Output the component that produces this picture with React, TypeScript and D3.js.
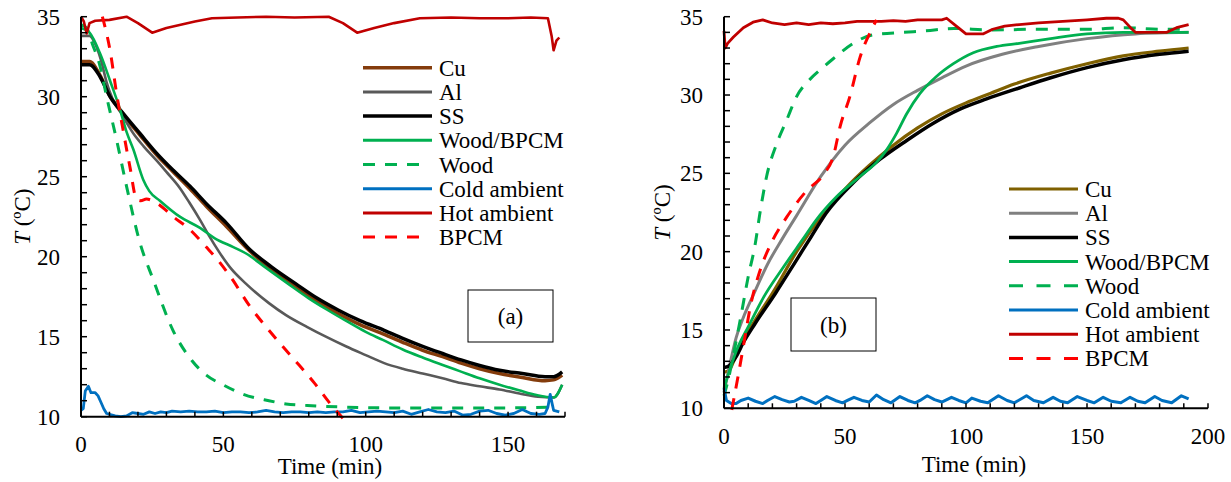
import React from "react";
import * as d3 from "d3";

type P = [number, number];

// ---------- Panel (a): cooling ----------
const coolCu: P[] = [[0,32.2],[3,32.2],[6.5,31.4],[10,30.1],[15,28.85],[20.7,27.6],[26.6,26.35],[32.4,25.3],[38.3,24.25],[44,23.15],[51,21.9],[59,20.4],[67,19.2],[75.5,18.1],[83,17.2],[90.3,16.45],[98,15.75],[106.5,15.15],[113,14.65],[120,14.15],[127,13.75],[133.5,13.35],[140,13.0],[147,12.7],[155,12.45],[163,12.25],[166,12.3],[169,12.6]];
const coolAl: P[] = [[0,33.8],[3,33.8],[5,33.3],[7,32.3],[9,30.9],[11,29.9],[14,29.0],[18.4,27.7],[22,26.9],[26.6,26.0],[30,25.3],[34.7,24.3],[38,23.4],[41.8,22.3],[45,21.3],[48.5,20.3],[52.5,19.3],[58,18.3],[66,17.1],[72,16.35],[79.5,15.6],[86,15.0],[93,14.4],[100,13.85],[106.5,13.35],[113,13.0],[120,12.7],[127,12.4],[133.5,12.1],[140,11.9],[147,11.7],[154,11.45],[160.5,11.25],[166,11.2],[169,12.0]];
const coolSS: P[] = [[0,32.0],[3,32.0],[6.7,31.25],[10.2,30.0],[14.8,28.96],[20.7,27.7],[26.6,26.46],[32.4,25.4],[38.3,24.4],[44.1,23.3],[51.1,22.1],[59,20.5],[67,19.35],[75.5,18.3],[83,17.4],[90.3,16.67],[98,16.0],[106.5,15.4],[113,14.9],[120,14.4],[127,13.95],[133.5,13.55],[140,13.2],[147,12.9],[155,12.7],[163,12.5],[166,12.5],[169,12.8]];
const coolWoodBpcm: P[] = [[0,34.3],[3,34.0],[6.7,32.7],[10.2,31.0],[13.7,29.2],[16,27.8],[18.4,26.7],[21.9,24.8],[24,24.1],[27.7,23.5],[34.7,22.5],[41.8,21.8],[47,21.15],[53.5,20.6],[58,20.2],[65,19.3],[72.8,18.3],[80,17.4],[86.3,16.7],[93,16.0],[100,15.3],[106,14.8],[113,14.2],[120,13.7],[126.8,13.25],[133,12.85],[140,12.4],[147,12.0],[153.8,11.65],[160,11.35],[166,11.2],[169,12.0]];
const coolWood: P[] = [[0,34.5],[2,34.3],[4,33.3],[6.7,31.9],[9,30.0],[12.5,27.3],[16,24.4],[20.5,21.0],[25.5,18.5],[32.3,15.4],[39,13.5],[44,12.6],[49.8,12.0],[57,11.4],[66,11.0],[72,10.8],[79.5,10.7],[93,10.6],[110,10.55],[130,10.55],[150,10.55],[166,10.6]];
const coolCold: P[] = [[0,10.4],[0.8,10.5],[1.5,11.6],[2.6,11.9],[3.5,11.5],[5,11.5],[6,11.3],[7,10.9],[8,10.5],[9,10.2],[12,10.05],[14,10.0],[16,10.05],[18,10.25],[20,10.2],[22,10.15],[24,10.3],[26,10.2],[28,10.3],[30,10.25],[32,10.35],[35,10.3],[38,10.35],[41,10.3],[44,10.3],[47,10.35],[50,10.25],[53,10.3],[56,10.3],[59,10.25],[62,10.3],[65,10.4],[68,10.3],[71,10.25],[74,10.3],[77,10.3],[80,10.25],[83,10.3],[86,10.25],[89,10.3],[92,10.3],[95,10.4],[98,10.25],[101,10.3],[104,10.35],[107,10.3],[110,10.25],[113,10.35],[116,10.15],[119,10.3],[122,10.45],[125,10.3],[128,10.25],[131,10.35],[134,10.1],[137,10.15],[140,10.35],[143,10.4],[146,10.2],[149,10.1],[152,10.2],[155,10.45],[158,10.2],[161,10.15],[163,10.2],[164,10.6],[164.8,11.4],[165.5,10.8],[166,10.4],[168,10.3]];
const coolHot: P[] = [[0,35.0],[1,34.7],[2,33.95],[3,34.6],[5,34.75],[10,34.8],[16,35.0],[20,34.6],[25,34.0],[30,34.3],[35,34.5],[40,34.7],[46,34.9],[55,34.95],[65,35.0],[75,34.95],[87,35.0],[92,34.6],[97,34.0],[103,34.3],[110,34.6],[119,34.9],[130,34.95],[140,34.9],[150,34.9],[158,34.95],[164,34.9],[165.3,33.8],[166,32.9],[167,33.5],[168,33.7]];
const coolBpcm: P[] = [[7.5,35.0],[10.2,32.9],[12.5,30.2],[14.8,27.9],[17.2,25.6],[19.5,23.6],[21,23.5],[23,23.6],[26.6,23.35],[32.4,22.5],[38.2,21.7],[44,20.6],[48,19.8],[52.5,18.75],[59.3,16.9],[66,15.4],[74,13.75],[82,12.1],[87.6,10.8],[92,9.9]];

// ---------- Panel (b): heating ----------
const heatCu: P[] = [[0,12.3],[2,12.4],[4,13.0],[8,14.4],[12.8,15.6],[21,17.6],[30,20.0],[40,22.2],[50,24.0],[60,25.5],[70,26.8],[80,27.9],[90,28.8],[100,29.5],[110,30.1],[120,30.7],[135,31.4],[150,32.0],[165,32.5],[180,32.8],[192,33.0]];
const heatAl: P[] = [[0,11.0],[3,13.2],[5,14.5],[8,15.8],[12,17.2],[18,19.2],[24,20.8],[30,22.3],[40,24.8],[50,26.8],[60,28.2],[70,29.4],[80,30.3],[90,31.1],[100,31.85],[115,32.6],[130,33.1],[150,33.6],[170,33.9],[192,34.0]];
const heatSS: P[] = [[0,12.6],[2,12.7],[5,13.3],[8,14.2],[12.8,15.4],[21.3,17.35],[29.3,19.3],[35.8,20.9],[42.4,22.5],[53.4,24.4],[64.5,25.9],[75.5,27.1],[86.5,28.2],[97.5,29.1],[108.5,29.75],[122,30.45],[135,31.1],[150,31.75],[165,32.25],[180,32.6],[192,32.8]];
const heatWoodBpcm: P[] = [[0,11.3],[2.5,12.5],[5.2,13.7],[10,15.2],[16.4,17.1],[24.5,19.0],[32.6,20.8],[38,22.0],[46.5,23.5],[56.2,24.8],[63,25.7],[67.2,26.5],[71.3,27.55],[75.5,28.8],[81,30.1],[87.9,31.2],[94.8,32.0],[103,32.7],[112.7,33.1],[122,33.3],[135,33.6],[150,33.9],[165,34.0],[180,34.0],[192,34.0]];
const heatWood: P[] = [[0,10.8],[2,12.0],[4,13.5],[6.9,15.8],[10,18.4],[12.8,20.4],[15,22.6],[17.6,24.8],[21.8,26.9],[25.9,28.4],[30,29.9],[35.5,31.0],[39.7,31.6],[45,32.3],[53.4,33.3],[61.7,33.85],[74,34.0],[83.5,34.1],[95,34.25],[110,34.15],[130,34.2],[150,34.2],[165,34.3],[180,34.2],[192,34.2]];
const heatCold: P[] = [[0,11.3],[1,10.5],[3,10.3],[5,10.3],[7,10.5],[10,10.65],[13,10.45],[16,10.3],[18,10.5],[21,10.75],[24,10.55],[27,10.4],[29,10.45],[32,10.7],[35,10.5],[38,10.3],[40,10.5],[42.5,10.75],[46,10.5],[49,10.35],[51,10.5],[53.7,10.7],[57,10.5],[60,10.4],[63,10.85],[66,10.55],[69,10.35],[72.7,10.75],[76,10.5],[79,10.35],[81,10.5],[84,10.8],[87,10.55],[90,10.4],[94,10.7],[97,10.5],[100,10.35],[102.4,10.65],[106,10.45],[109,10.35],[113.4,10.8],[117,10.5],[120,10.35],[125,10.8],[128,10.5],[132,10.35],[136,10.7],[139,10.45],[142,10.35],[146,10.75],[150,10.5],[153,10.35],[156.7,10.7],[160,10.45],[164,10.35],[167.8,10.7],[171,10.45],[174,10.35],[178,10.75],[181,10.5],[185,10.35],[189,10.8],[192,10.6]];
const heatHot: P[] = [[0,34.1],[0.5,33.0],[1.5,33.3],[3.9,33.7],[8,34.3],[12,34.65],[16,34.8],[20,34.6],[25,34.5],[30,34.6],[35,34.5],[40,34.6],[45,34.55],[50,34.6],[55,34.7],[60,34.7],[65,34.7],[70,34.75],[75,34.7],[80,34.8],[85,34.8],[90,34.8],[92,34.9],[96,34.4],[100,33.9],[107,33.9],[111,34.2],[116,34.4],[122,34.5],[130,34.6],[140,34.7],[150,34.8],[158,34.9],[163,34.9],[165,34.8],[168,34.3],[170,34.0],[175,34.0],[183,34.0],[187,34.3],[192,34.5]];
const heatBpcm: P[] = [[3.2,9.9],[6,12.2],[8.5,14.4],[10.9,16.5],[14.9,18.8],[19.7,20.6],[25.9,22.2],[34.2,23.9],[41,24.9],[45.2,26.1],[48,28.0],[52,29.9],[56.2,32.4],[61.7,34.4],[63,34.8]];

const legendLabels = ["Cu", "Al", "SS", "Wood/BPCM", "Wood", "Cold ambient", "Hot ambient", "BPCM"];
const yTickLabels = [10, 15, 20, 25, 30, 35];
const coolXTickLabels = [0, 50, 100, 150];
const heatXTickLabels = [0, 50, 100, 150, 200];

const FONT = "Liberation Serif, Times New Roman, DejaVu Serif, serif";

type Style = { color: string; width: number; dash?: string; smooth: boolean };

const coolStyles: Style[] = [
  { color: "#843C0C", width: 3.5, smooth: true },
  { color: "#595959", width: 2.6, smooth: true },
  { color: "#000000", width: 3.5, smooth: true },
  { color: "#00B050", width: 2.6, smooth: true },
  { color: "#00B050", width: 3, dash: "11,10", smooth: true },
  { color: "#0070C0", width: 2.8, smooth: false },
  { color: "#C00000", width: 2.6, smooth: false },
  { color: "#FF0000", width: 3, dash: "11,10", smooth: true },
];
const heatStyles: Style[] = [
  { color: "#7F6000", width: 3.2, smooth: true },
  { color: "#808080", width: 3, smooth: true },
  { color: "#000000", width: 3.5, smooth: true },
  { color: "#00B050", width: 2.8, smooth: true },
  { color: "#00B050", width: 3, dash: "12,10", smooth: true },
  { color: "#0070C0", width: 3, smooth: false },
  { color: "#C00000", width: 2.8, smooth: false },
  { color: "#FF0000", width: 3, dash: "12,10", smooth: true },
];

type PanelProps = {
  series: P[][];
  styles: Style[];
  xRange: [number, number];
  xMax: number;
  yRange: [number, number];
  xTickLabels: number[];
  xTitleX: number;
  xTitleY: number;
  xLabelY: number;
  yTitleX: number;
  legendX: [number, number, number];
  legendDash: [number, number, number];
  legendY0: number;
  box: { x: number; y: number; w: number; h: number; label: string };
};

function Panel(p: PanelProps) {
  const x = d3.scaleLinear().domain([0, p.xMax]).range(p.xRange);
  const y = d3.scaleLinear().domain([10, 35]).range(p.yRange);
  const minorY = d3.range(10, 35.01, 1);
  const minorX = d3.range(0, p.xMax + 0.01, 10);
  const axisX = p.xRange[0];
  const axisY = p.yRange[0];
  const yTitleY = (p.yRange[0] + p.yRange[1]) / 2;
  return (
    <g>
      {p.series.map((s, i) => {
        const st = p.styles[i];
        const line = d3
          .line<P>()
          .x((d) => x(d[0]))
          .y((d) => y(d[1]))
          .curve(st.smooth ? d3.curveMonotoneX : d3.curveLinear);
        return (
          <path
            key={i}
            d={line(s) || ""}
            fill="none"
            stroke={st.color}
            strokeWidth={st.width}
            strokeDasharray={st.dash}
            strokeLinejoin="round"
          />
        );
      })}
      <line x1={axisX} x2={axisX} y1={y(35)} y2={y(10)} stroke="#000" strokeWidth={2} />
      <line x1={x(0)} x2={x(p.xMax)} y1={axisY} y2={axisY} stroke="#000" strokeWidth={2} />
      {minorY.map((v) => (
        <line key={"yt" + v} x1={axisX} x2={axisX + 6} y1={y(v)} y2={y(v)} stroke="#000" strokeWidth={1.5} />
      ))}
      {minorX.map((v) => (
        <line key={"xt" + v} x1={x(v)} x2={x(v)} y1={axisY} y2={axisY - 5} stroke="#000" strokeWidth={1.5} />
      ))}
      {yTickLabels.map((v) => (
        <text key={"yl" + v} x={axisX - 21} y={y(v) + 8} textAnchor="end" fontSize={23}>
          {v}
        </text>
      ))}
      {p.xTickLabels.map((v) => (
        <text key={"xl" + v} x={x(v)} y={p.xLabelY} textAnchor="middle" fontSize={23}>
          {v}
        </text>
      ))}
      <text x={p.xTitleX} y={p.xTitleY} textAnchor="middle" fontSize={23}>
        Time (min)
      </text>
      <text
        transform={`translate(${p.yTitleX},${yTitleY}) rotate(-90)`}
        textAnchor="middle"
        fontSize={23}
        dy={8}
      >
        <tspan fontStyle="italic">T</tspan> (ºC)
      </text>
      {legendLabels.map((lab, i) => {
        const st = p.styles[i];
        const cy = p.legendY0 + i * 24.2;
        const dashed = !!st.dash;
        return (
          <g key={"lg" + i}>
            <line
              x1={p.legendX[0]}
              x2={dashed ? p.legendX[0] + p.legendDash[2] : p.legendX[1]}
              y1={cy}
              y2={cy}
              stroke={st.color}
              strokeWidth={Math.max(st.width, 3)}
              strokeDasharray={dashed ? `${p.legendDash[0]},${p.legendDash[1]}` : undefined}
            />
            <text x={p.legendX[2]} y={cy + 8} fontSize={23}>
              {lab}
            </text>
          </g>
        );
      })}
      <rect x={p.box.x} y={p.box.y} width={p.box.w} height={p.box.h} fill="#fff" stroke="#000" strokeWidth={1} />
      <text x={p.box.x + p.box.w / 2} y={p.box.y + p.box.h / 2 + 8} textAnchor="middle" fontSize={23}>
        {p.box.label}
      </text>
    </g>
  );
}

export default function App() {
  return (
    <div style={{ position: "absolute", left: 0, top: 0 }}>
      <svg width={1231} height={482} style={{ display: "block", background: "#fff", fontFamily: FONT }}>
        <Panel
          series={[coolCu, coolAl, coolSS, coolWoodBpcm, coolWood, coolCold, coolHot, coolBpcm]}
          styles={coolStyles}
          xRange={[81, 565]}
          xMax={170}
          yRange={[416.7, 16.7]}
          xTickLabels={coolXTickLabels}
          xTitleX={330}
          xTitleY={474}
          xLabelY={452}
          yTitleX={22}
          legendX={[363, 432, 439]}
          legendDash={[12, 10, 59]}
          legendY0={67.7}
          box={{ x: 468, y: 290, w: 85, h: 52, label: "(a)" }}
        />
        <Panel
          series={[heatCu, heatAl, heatSS, heatWoodBpcm, heatWood, heatCold, heatHot, heatBpcm]}
          styles={heatStyles}
          xRange={[724, 1208]}
          xMax={200}
          yRange={[408.3, 16.7]}
          xTickLabels={heatXTickLabels}
          xTitleX={974}
          xTitleY={472}
          xLabelY={444}
          yTitleX={662}
          legendX={[1009, 1078, 1085]}
          legendDash={[14, 13.5, 69]}
          legendY0={189}
          box={{ x: 791, y: 298, w: 85, h: 53, label: "(b)" }}
        />
      </svg>
    </div>
  );
}
